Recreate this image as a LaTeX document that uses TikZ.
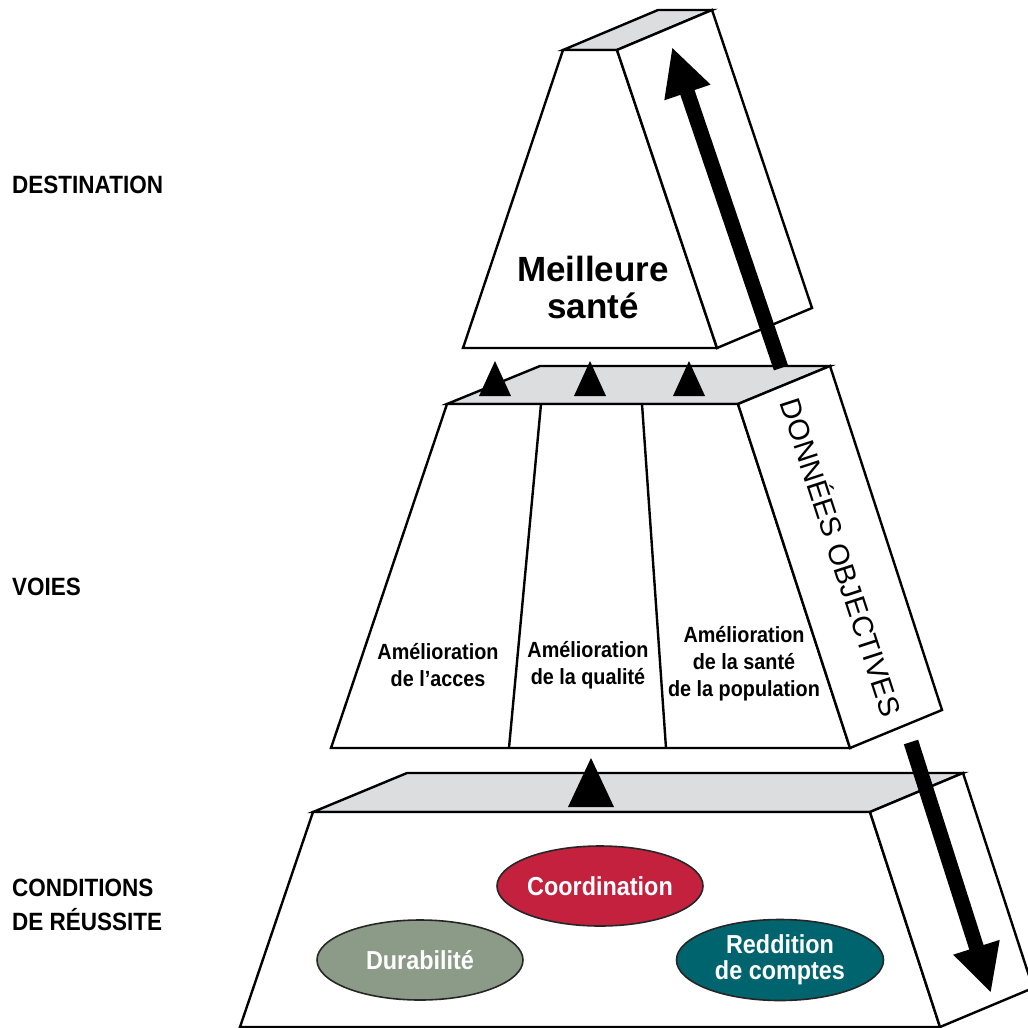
\documentclass[tikz,border=0pt]{standalone}
\usepackage{fontspec}
\setmainfont{Liberation Sans}
\newfontfamily\gothic[FakeStretch=0.9]{Liberation Sans}
\usetikzlibrary{arrows.meta,shapes.geometric}
\definecolor{facegray}{RGB}{220,221,223}
\definecolor{coordred}{RGB}{196,33,62}
\definecolor{durgreen}{RGB}{139,155,135}
\definecolor{accteal}{RGB}{0,100,110}
\begin{document}
\begin{tikzpicture}[x=1pt,y=-1pt,
  edge/.style={draw=black,line width=2.4pt,line join=miter},
  topface/.style={edge,fill=facegray},
  frontface/.style={edge,fill=white},
  level/.style={font=\gothic\bfseries\fontsize{25}{34}\selectfont,anchor=west,align=left,inner sep=0pt},
  pathlabel/.style={font=\gothic\bfseries\fontsize{22}{27}\selectfont,align=center,inner sep=0pt},
  goal/.style={ellipse,draw=black!85,line width=1.6pt,minimum width=206pt,minimum height=80pt,inner sep=0pt,text=white,font=\gothic\bfseries\fontsize{26}{29}\selectfont,align=center},
  bigarrow/.style={draw=black,line width=15pt,-{Triangle[width=45pt,length=48pt]}},
  pointer/.style={fill=black}
]
\useasboundingbox (0,0) rectangle (1028,1028);

% ---- bottom block: conditions de reussite
\coordinate (b1) at (313,812); \coordinate (b2) at (870,812);
\coordinate (b3) at (963,773); \coordinate (b4) at (407,773);
\coordinate (b5) at (940,1027); \coordinate (b6) at (240,1027);
\coordinate (b7) at (1033,988);
\path[topface] (b1) -- (b2) -- (b3) -- (b4) -- cycle;
\path[frontface] (b1) -- (b2) -- (b5) -- (b6) -- cycle;
\path[frontface] (b2) -- (b3) -- (b7) -- (b5) -- cycle;

\node[goal,fill=coordred] (coord) at (600,886) {Coordination};
\node[goal,fill=durgreen] (durab) at (420,960) {Durabilit\'e};
\node[goal,fill=accteal,minimum width=207pt,minimum height=81pt] (redd) at (780,960) {Reddition\\[-3pt]de comptes};

% ---- middle block: voies
\coordinate (m1) at (447,404); \coordinate (m2) at (738,404);
\coordinate (m3) at (830,366); \coordinate (m4) at (540,366);
\coordinate (m5) at (850,748); \coordinate (m6) at (331,748);
\coordinate (m7) at (942,710);
\coordinate (d1t) at (541,404); \coordinate (d1b) at (509,748);
\coordinate (d2t) at (642,404); \coordinate (d2b) at (666,748);
\path[topface] (m1) -- (m2) -- (m3) -- (m4) -- cycle;
\path[frontface] (m1) -- (m2) -- (m5) -- (m6) -- cycle;
\path[frontface] (m2) -- (m3) -- (m7) -- (m5) -- cycle;
\draw[edge] (d1t) -- (d1b);
\draw[edge] (d2t) -- (d2b);

\node[pathlabel] (acces) at (438,665) {Am\'elioration\\de l’acces};
\node[pathlabel] (qualite) at (588,665) {Am\'elioration\\de la qualit\'e};
\node[pathlabel] (popul) at (744,664) {Am\'elioration\\de la sant\'e\\de la population};
\node[font=\fontsize{29}{29}\selectfont,rotate=-72,inner sep=0pt] (donnees) at (843,557) {DONN\'EES OBJECTIVES};

% ---- top block: destination
\coordinate (t1) at (563,50); \coordinate (t2) at (617,50);
\coordinate (t3) at (712,10); \coordinate (t4) at (658,10);
\coordinate (t5) at (717,348); \coordinate (t6) at (463,348);
\coordinate (t7) at (812,308);
\path[topface] (t1) -- (t2) -- (t3) -- (t4) -- cycle;
\path[frontface] (t1) -- (t2) -- (t5) -- (t6) -- cycle;
\path[frontface] (t2) -- (t3) -- (t7) -- (t5) -- cycle;
\node[font=\bfseries\fontsize{35}{37}\selectfont,align=center,inner sep=0pt] (sante) at (593,287) {Meilleure\\sant\'e};

% ---- arrows between levels
\fill[pointer] (495,361) -- (511,396) -- (479,396) -- cycle;
\fill[pointer] (590,361) -- (606,396) -- (574,396) -- cycle;
\fill[pointer] (689,361) -- (705,396) -- (673,396) -- cycle;
\fill[pointer] (591,758) -- (614,807) -- (568,807) -- cycle;

% ---- evidence flow
\coordinate (upS) at (781,368); \coordinate (upT) at (672,47);
\coordinate (dnS) at (911,742); \coordinate (dnT) at (991,993);
\draw[bigarrow] (upS) -- (upT);
\draw[bigarrow] (dnS) -- (dnT);

% ---- level names
\node[level] (dest) at (12,185) {DESTINATION};
\node[level] (voies) at (12,587) {VOIES};
\node[level] (cond) at (12,905) {CONDITIONS\\DE R\'EUSSITE};
\end{tikzpicture}
\end{document}
